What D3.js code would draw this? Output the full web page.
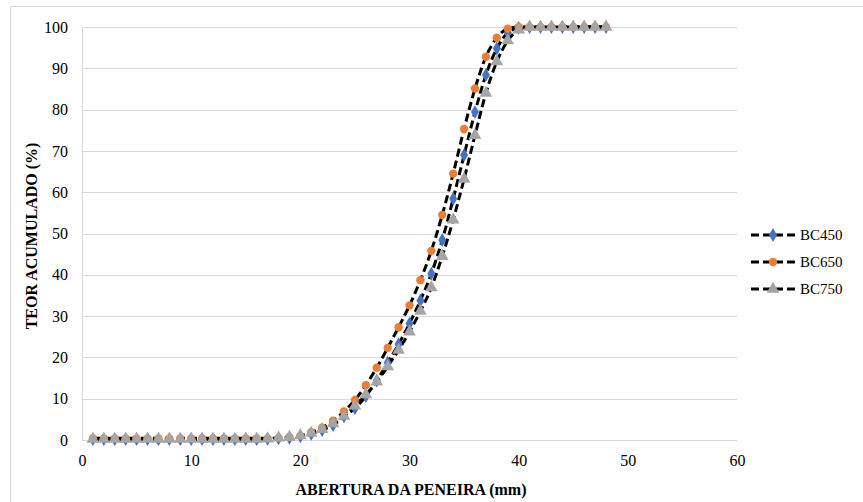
<!DOCTYPE html>
<html>
<head>
<meta charset="utf-8">
<script src="https://cdn.jsdelivr.net/npm/d3@7"></script>
<style>
  body { margin: 0; background: #fff; }
</style>
</head>
<body>
<svg width="863" height="502"></svg>
<script>
// sieve openings (mm)
var aberturas = d3.range(1, 49);

// cumulative content (%) per sample
var bc450 = [0.2, 0.2, 0.2, 0.2, 0.2, 0.2, 0.2, 0.2, 0.2, 0.2, 0.2, 0.2, 0.2, 0.2, 0.2, 0.2, 0.3, 0.4, 0.5, 0.9,
  1.5, 2.4, 3.6, 5.7, 7.7, 10.6, 14.4, 18.7, 23.2, 28.2, 33.8, 40.3, 48.4, 58.4, 69.0, 79.4, 88.4, 94.8, 98.6, 99.8,
  100, 100, 100, 100, 100, 100, 100, 100];
var bc650 = [0.4, 0.4, 0.4, 0.4, 0.4, 0.4, 0.4, 0.4, 0.4, 0.4, 0.4, 0.4, 0.4, 0.4, 0.4, 0.4, 0.4, 0.5, 0.7, 1.0,
  1.9, 3.0, 4.7, 6.9, 9.7, 13.3, 17.5, 22.3, 27.3, 32.6, 38.7, 45.8, 54.5, 64.5, 75.3, 85.1, 92.8, 97.4, 99.6, 100,
  100, 100, 100, 100, 100, 100, 100, 100];
var bc750 = [0.2, 0.2, 0.2, 0.2, 0.2, 0.2, 0.2, 0.2, 0.2, 0.2, 0.2, 0.2, 0.2, 0.2, 0.2, 0.2, 0.3, 0.5, 0.7, 1.1,
  1.7, 2.6, 4.0, 5.8, 8.3, 11.0, 14.1, 17.8, 21.8, 26.2, 31.2, 36.9, 44.5, 53.3, 63.2, 73.8, 84.0, 91.6, 96.7, 99.3,
  100, 100, 100, 100, 100, 100, 100, 100];

var seriesNames = ['BC450', 'BC650', 'BC750'];
var seriesColors = ['#4472c4', '#ed7d31', '#a5a5a5'];
var seriesShapes = [d3.symbolDiamond, d3.symbolCircle, d3.symbolTriangle];
var seriesSizes = [55, 55, 70];
var xTicks = [0, 10, 20, 30, 40, 50, 60];
var yTicks = d3.range(0, 101, 10);

var FONT = 'Liberation Serif';
var svg = d3.select('svg');

// chart frame
svg.append('rect')
    .attr('x', 10.5).attr('y', 6.5)
    .attr('width', 900).attr('height', 600)
    .attr('fill', 'none').attr('stroke', '#d9d9d9');

var x = d3.scaleLinear().domain([0, 60]).range([82, 737]);
var y = d3.scaleLinear().domain([0, 100]).range([440, 27]);

// gridlines
svg.append('g')
    .selectAll('line')
    .data(yTicks)
    .enter()
    .append('line')
    .attr('x1', x(0)).attr('x2', x(60))
    .attr('y1', function (d) { return Math.round(y(d)) + 0.5; })
    .attr('y2', function (d) { return Math.round(y(d)) + 0.5; })
    .attr('stroke', '#d9d9d9').attr('stroke-width', 1);

svg.append('line')
    .attr('x1', x(0) + 0.5).attr('x2', x(0) + 0.5)
    .attr('y1', y(0)).attr('y2', y(100))
    .attr('stroke', '#d9d9d9');

// axes (labels only)
var yAxis = svg.append('g')
    .attr('transform', 'translate(' + x(0) + ',0)')
    .call(d3.axisLeft(y).tickValues(yTicks).tickSize(0).tickPadding(14));
var xAxis = svg.append('g')
    .attr('transform', 'translate(0,' + y(0) + ')')
    .call(d3.axisBottom(x).tickValues(xTicks).tickSize(0).tickPadding(15));
[xAxis, yAxis].forEach(function (a) {
    a.attr('font-family', FONT).attr('font-size', 16);
    a.select('.domain').remove();
    a.selectAll('text').attr('fill', '#000');
});

// axis titles
svg.append('text')
    .attr('x', 411).attr('y', 495)
    .attr('text-anchor', 'middle')
    .attr('font-family', FONT).attr('font-size', 16).attr('font-weight', 'bold')
    .text('ABERTURA DA PENEIRA (mm)');
svg.append('text')
    .attr('transform', 'translate(37,236) rotate(-90)')
    .attr('text-anchor', 'middle')
    .attr('font-family', FONT).attr('font-size', 16).attr('font-weight', 'bold')
    .text('TEOR ACUMULADO (%)');

// series
var data = [bc450, bc650, bc750].map(function (vals, i) {
    return {
        name: seriesNames[i], color: seriesColors[i], shape: seriesShapes[i], size: seriesSizes[i],
        points: vals.map(function (v, j) { return { x: aberturas[j], y: v }; })
    };
});

var line = d3.line()
    .x(function (d) { return x(d.x); })
    .y(function (d) { return y(d.y); })
    .curve(d3.curveMonotoneX);

svg.append('g')
    .selectAll('path')
    .data(data)
    .enter()
    .append('path')
    .attr('d', function (d) { return line(d.points); })
    .attr('fill', 'none')
    .attr('stroke', '#000')
    .attr('stroke-width', 3)
    .attr('stroke-dasharray', '8,4');

var marks = svg.append('g')
    .selectAll('g')
    .data(data)
    .enter()
    .append('g')
    .attr('fill', function (d) { return d.color; });

marks.selectAll('path')
    .data(function (d) { return d.points.map(function (p) { return { p: p, s: d }; }); })
    .enter()
    .append('path')
    .attr('transform', function (d) { return 'translate(' + x(d.p.x) + ',' + y(d.p.y) + ')'; })
    .attr('d', function (d) { return d3.symbol().type(d.s.shape).size(d.s.size)(); });

// legend
var legend = svg.append('g')
    .selectAll('g')
    .data(data)
    .enter()
    .append('g')
    .attr('transform', function (d, i) { return 'translate(751,' + (235 + i * 27) + ')'; });

legend.append('line')
    .attr('x1', 0).attr('x2', 44)
    .attr('stroke', '#000').attr('stroke-width', 3)
    .attr('stroke-dasharray', '8,4');
legend.append('path')
    .attr('transform', 'translate(22,0)')
    .attr('fill', function (d) { return d.color; })
    .attr('d', function (d) { return d3.symbol().type(d.shape).size(d.size)(); });
legend.append('text')
    .attr('x', 49).attr('y', 5)
    .attr('font-family', FONT).attr('font-size', 15)
    .text(function (d) { return d.name; });
</script>
</body>
</html>
